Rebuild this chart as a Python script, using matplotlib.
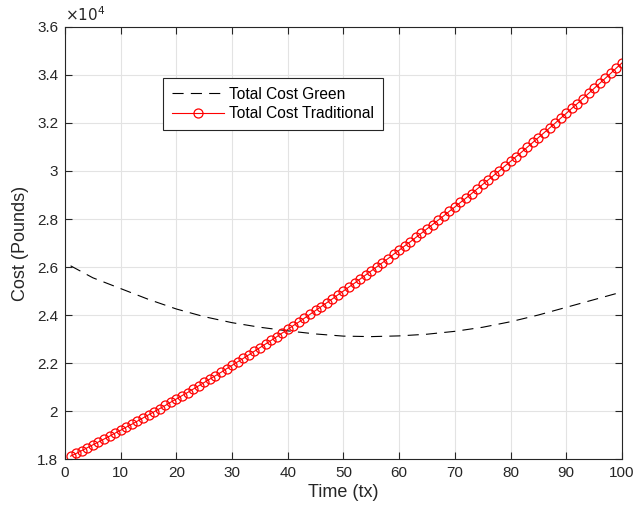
import matplotlib
matplotlib.use("Agg")
import matplotlib.pyplot as plt
from matplotlib.ticker import FuncFormatter, MultipleLocator

plt.rcParams['font.family'] = ['Liberation Sans', 'DejaVu Sans']

# time steps for the traditional series (one marker per step)
t_trad = list(range(1, 101))
cost_trad = [
    18120, 18230, 18350, 18470, 18590, 18710, 18830, 18950, 19080, 19200,
    19330, 19450, 19580, 19710, 19840, 19970, 20100, 20230, 20370, 20500,
    20640, 20770, 20910, 21050, 21190, 21330, 21470, 21610, 21760, 21900,
    22050, 22190, 22340, 22490, 22640, 22790, 22940, 23090, 23250, 23400,
    23560, 23710, 23870, 24030, 24190, 24350, 24510, 24670, 24840, 25000,
    25170, 25330, 25500, 25670, 25840, 26010, 26180, 26350, 26530, 26700,
    26880, 27050, 27230, 27410, 27590, 27770, 27950, 28130, 28320, 28500,
    28690, 28870, 29060, 29250, 29440, 29630, 29820, 30010, 30210, 30400,
    30600, 30790, 30990, 31190, 31390, 31590, 31790, 31990, 32200, 32400,
    32610, 32810, 33020, 33230, 33440, 33650, 33860, 34070, 34290, 34500,
]

# green series read at coarser steps
t_green = [1, 5, 10, 15, 20, 25, 30, 35, 40, 45, 50,
           55, 60, 65, 70, 75, 80, 85, 90, 95, 100]
cost_green = [26050, 25550, 25100, 24650, 24250, 23930, 23680, 23490, 23340, 23210, 23120,
              23100, 23130, 23200, 23320, 23490, 23720, 24000, 24320, 24640, 24960]

fig = plt.figure(figsize=(6.35, 5.15), dpi=100)
ax = fig.add_axes([0.1024, 0.1087, 0.877, 0.8389])

ax.plot(t_green, cost_green, linestyle=(0, (10, 6.5)), color='black', lw=0.8,
        label='Total Cost Green')
ax.plot(t_trad, cost_trad, color='red', lw=0.8, marker='o', markersize=6.5,
        markerfacecolor='none', markeredgecolor='red', markeredgewidth=0.9,
        label='Total Cost Traditional')

ax.set_xlim(0, 100)
ax.set_ylim(18000, 36000)
ax.xaxis.set_major_locator(MultipleLocator(10))
ax.yaxis.set_major_locator(MultipleLocator(2000))
ax.yaxis.set_major_formatter(FuncFormatter(lambda v, p: f"{v / 1e4:g}"))

ax.grid(True, color='#e3e3e3', lw=0.8)
ax.set_axisbelow(True)
for s in ax.spines.values():
    s.set_color('#262626')
    s.set_linewidth(0.8)
ax.tick_params(direction='in', length=5, width=0.8, colors='#262626',
               labelsize=11, top=True, right=True, pad=5)

ax.text(0.0, 1.006, r'$\times10^{4}$', transform=ax.transAxes, fontsize=11,
        color='#262626', ha='left', va='bottom')

ax.set_xlabel('Time (tx)', fontsize=13, color='#262626', labelpad=3)
ax.set_ylabel('Cost (Pounds)', fontsize=13, color='#262626', labelpad=6)

leg = ax.legend(loc='upper left', bbox_to_anchor=(0.176, 0.882), fontsize=11.2,
                frameon=True, fancybox=False, framealpha=1, edgecolor='#262626',
                handlelength=3.4, borderaxespad=0, borderpad=0.55,
                labelspacing=0.3, handletextpad=0.3)
leg.get_frame().set_linewidth(0.8)

fig.savefig('out.png', dpi=100)
